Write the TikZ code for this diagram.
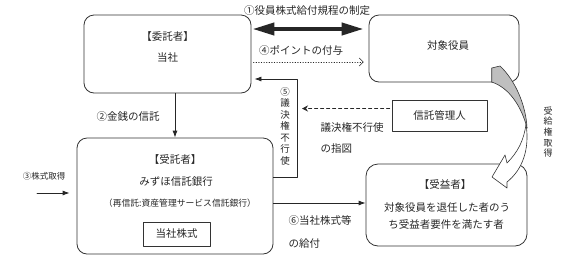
\documentclass[tikz,border=0pt]{standalone}
\usepackage{fontspec}
\setmainfont{Noto Sans CJK JP}
\usetikzlibrary{arrows.meta,positioning}

\begin{document}
\begin{tikzpicture}[x=1pt, y=-1pt, line cap=round, line join=round,
  font=\fontsize{10.5}{12}\selectfont, text=black!85,
  box/.style={draw=black!80, line width=0.8pt, rounded corners=10pt, inner sep=0pt},
  sqbox/.style={draw=black!80, line width=0.8pt, inner sep=0pt},
  conn/.style={draw=black!85, line width=0.8pt},
  tip/.style={-{Latex[length=7pt,width=5pt]}},
  small/.style={font=\fontsize{8.8}{10}\selectfont},
  vtext/.style={align=center, inner sep=0pt, font=\fontsize{9.5}{11.5}\selectfont}
]

% ----------------- Frame -----------------
\useasboundingbox (0,0) rectangle (564,269);

% ----------------- Boxes -----------------
\node[box, minimum width=167pt, minimum height=78pt] (wt) at (167.5,54) {};
\node (wtA) at (167.5,37) {【委託者】};
\node (wtB) at (167.5,58) {当社};

\node[box, minimum width=150pt, minimum height=67pt] (dy) at (444,48.5) {};
\node (dyA) at (448,45) {対象役員};

\node[sqbox, minimum width=95pt, minimum height=31pt] (sk) at (439.5,115.5) {信託管理人};

\node[box, minimum width=196pt, minimum height=116pt] (jt) at (175,196) {};
\node (jtA) at (175,160) {【受託者】};
\node (jtB) at (176,182) {みずほ信託銀行};
\node[small] (jtC) at (180,203) {（再信託:資産管理サービス信託銀行）};
\node[sqbox, minimum width=67pt, minimum height=24pt] (kb) at (176.5,234) {当社株式};

\node[box, rounded corners=12pt, minimum width=161pt, minimum height=82pt] (je) at (446.5,205) {};
\node (jeA) at (445,185) {【受益者】};
\node (jeB) at (447,207) {対象役員を退任した者のう};
\node (jeC) at (446,224) {ち受益者要件を満たす者};

% ----------------- Connectors -----------------
% (1) rules, thick both ways
\coordinate (r1) at ([yshift=25pt]wt.east);
\draw[conn, line width=4pt, {Triangle[length=22pt,width=12pt]}-{Triangle[length=22pt,width=12pt]},
  shorten <=1pt, shorten >=5pt] (r1) -- (r1 -| dy.west);
\node (l1) at (307,11) {①役員株式給付規程の制定};

% (4) points, dotted
\coordinate (r4) at ([yshift=-8pt]wt.east);
\draw[conn, line width=0.6pt, dotted, -{Straight Barb[length=4pt,width=8pt]},
  shorten <=2pt, shorten >=5pt] (r4) -- (r4 -| dy.west);
\node (l4) at (301,50) {④ポイントの付与};

% (2) money in trust
\draw[conn, tip] (jt.north |- wt.south) -- (jt.north);
\node (l2) at (128,117) {②金銭の信託};

% (3) buying shares
\coordinate (s3) at (37,193);
\draw[conn, tip, shorten >=7pt] (s3) -- (s3 -| jt.west);
\node[font=\fontsize{8.5}{10}\selectfont] (l3) at (44,176) {③株式取得};

% (5) no vote
\coordinate (k5) at (297,0);
\coordinate (f5a) at ([yshift=19pt]jt.east);
\coordinate (f5b) at ([yshift=-25pt]wt.east);
\draw[conn, tip, shorten >=3pt] (f5a) -- (f5a -| k5) -- (f5b -| k5) -- (f5b);
\node[vtext] (v5) at (285,126) {⑤\\議\\決\\権\\不\\行\\使};

% instruction from the administrator, dashed
\coordinate (d6) at ([yshift=7pt]sk.west);
\draw[conn, dashed, -{Stealth[length=6pt,width=6pt]}, shorten <=2pt, shorten >=5pt]
  (d6) -- (d6 -| k5);
\node[align=left, anchor=west, font=\fontsize{10.5}{21}\selectfont] (ld) at (317,137.5)
  {議決権不行使\\の指図};

% (6) handing over shares
\coordinate (g6) at ([yshift=-7pt]jt.east);
\draw[conn, tip] (g6) -- (g6 -| je.west);
\node[align=left, anchor=west, font=\fontsize{10.5}{23}\selectfont] (l6) at (285,231.5)
  {⑥当社株式等\\の給付};

% ----------------- Curved ribbon arrow -----------------
\fill[black!25] (491.7,68) -- (500,66)
  .. controls (515,80) and (526,105) .. (527,128)
  .. controls (522,108) and (510,88) .. (491.7,82) -- cycle;
\draw[black!80, line width=0.6pt] (491.7,82) -- (491.7,68) -- (500,66)
  .. controls (515,80) and (526,105) .. (527,128);
\draw[black!80, line width=0.6pt] (491.7,82)
  .. controls (510,88) and (522,108) .. (527,128);
\filldraw[fill=white, draw=black!80, line width=0.6pt] (526,124)
  .. controls (530,150) and (522,170) .. (507,182)
  -- (507,188) -- (492,177) -- (505,155) -- (507,163)
  .. controls (518,152) and (524,140) .. (526,124);
\node[vtext, font=\fontsize{9}{10.6}\selectfont] (vq) at (548,132) {受\\給\\権\\取\\得};

\end{tikzpicture}
\end{document}
